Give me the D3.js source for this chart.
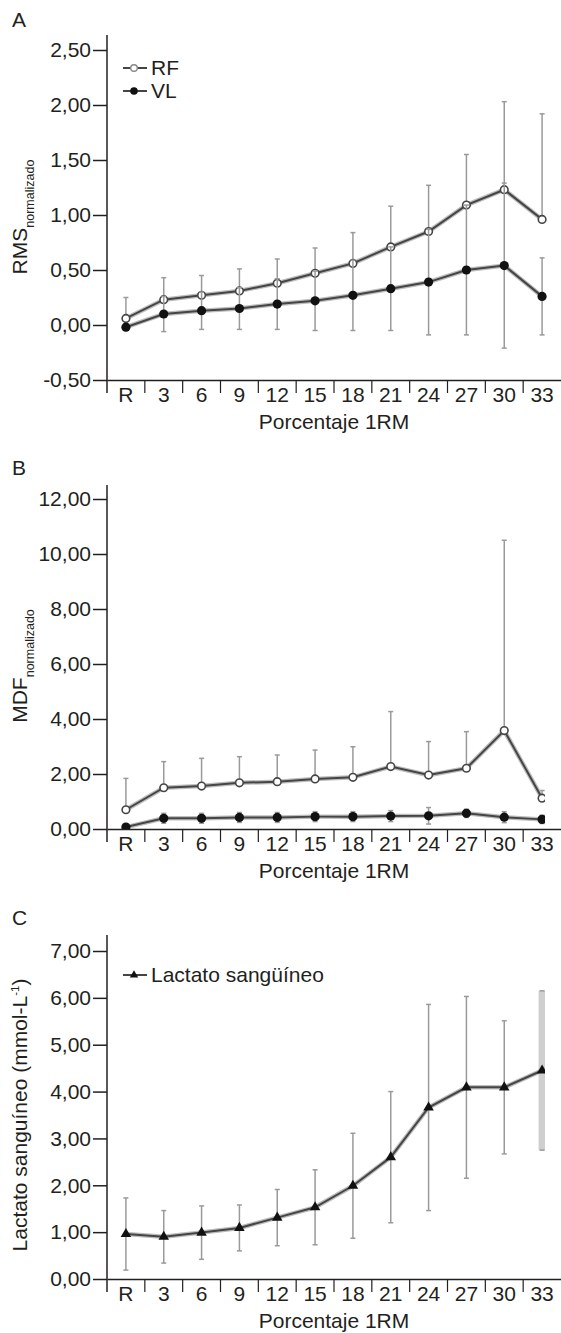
<!DOCTYPE html>
<html>
<head>
<meta charset="utf-8">
<script src="https://cdn.jsdelivr.net/npm/d3@7"></script>
<style>
  body { margin: 0; background: #fff; }
  svg { display: block; font-family: "Liberation Sans", Arial, sans-serif; }
  .axis text { font-size: 21px; fill: #231f20; }
  .axis path, .axis line { stroke: #231f20; stroke-width: 1.5; }
</style>
</head>
<body>
<script>
const categories = ["R", "3", "6", "9", "12", "15", "18", "21", "24", "27", "30", "33"];

// A: RMS normalizado
const rmsTicks = [-0.5, 0, 0.5, 1, 1.5, 2, 2.5];
const rmsRF = [0.06, 0.23, 0.27, 0.31, 0.38, 0.47, 0.56, 0.71, 0.85, 1.09, 1.23, 0.96];
const rmsRFsd = [0.19, 0.2, 0.18, 0.2, 0.22, 0.23, 0.28, 0.37, 0.42, 0.46, 0.8, 0.96];
const rmsVL = [-0.02, 0.1, 0.13, 0.15, 0.19, 0.22, 0.27, 0.33, 0.39, 0.5, 0.54, 0.26];
const rmsVLsd = [0.03, 0.16, 0.17, 0.19, 0.23, 0.27, 0.32, 0.38, 0.48, 0.59, 0.75, 0.35];

// B: MDF normalizado
const mdfTicks = [0, 2, 4, 6, 8, 10, 12];
const mdfRF = [0.7, 1.5, 1.56, 1.68, 1.72, 1.82, 1.88, 2.27, 1.96, 2.21, 3.58, 1.12];
const mdfRFsd = [1.14, 0.95, 1.01, 0.95, 0.97, 1.05, 1.11, 2.0, 1.22, 1.33, 6.92, 0.28];
const mdfVL = [0.07, 0.39, 0.39, 0.42, 0.42, 0.45, 0.45, 0.47, 0.48, 0.57, 0.43, 0.35];
const mdfVLsd = [0.1, 0.18, 0.18, 0.18, 0.18, 0.18, 0.18, 0.2, 0.3, 0.15, 0.2, 0.15];

// C: Lactato sanguineo
const lacTicks = [0, 1, 2, 3, 4, 5, 6, 7];
const lactato = [0.96, 0.9, 0.99, 1.09, 1.31, 1.53, 1.99, 2.6, 3.66, 4.09, 4.09, 4.45];
const lactatoSd = [0.77, 0.56, 0.57, 0.49, 0.6, 0.8, 1.12, 1.4, 2.2, 1.94, 1.42, 1.7];

const W = 561, H = 1333;
const left = 107, right = 561;
const ink = "#231f20", lineCol = "#454545", barCol = "#9a9a9a";

const svg = d3.select("body").append("svg").attr("width", W).attr("height", H);

let x = d3.scaleBand().domain(categories).range([left, right]).padding(0);
let fmt = (d) => d.toFixed(2).replace(".", ",");

function drawPanel(cfg) {
  let y = d3.scaleLinear().domain(cfg.domain).range([cfg.y0, cfg.y1]);
  let g = svg.append("g");

  // panel letter
  svg.append("text").attr("x", 12).attr("y", cfg.letterY).attr("dy", "0.35em")
    .style("font-size", "21px").attr("fill", ink).text(cfg.letter);

  // y axis
  g.append("g").attr("class", "axis")
    .attr("transform", "translate(" + left + ",0)")
    .call(d3.axisLeft(y).tickValues(cfg.ticks).tickFormat(fmt).tickSize(14).tickPadding(2))
    .call((a) => a.select(".domain").remove());
  g.append("line").attr("x1", left).attr("x2", left)
    .attr("y1", cfg.top).attr("y2", cfg.y0 + 13)
    .attr("stroke", ink).attr("stroke-width", 1.5);

  // x axis
  g.append("g").attr("class", "axis")
    .attr("transform", "translate(0," + cfg.y0 + ")")
    .call(d3.axisBottom(x).tickSize(0).tickPadding(7).tickSizeOuter(0));
  g.selectAll(".sep").data(categories.slice(1)).enter().append("line")
    .attr("x1", (d) => x(d)).attr("x2", (d) => x(d))
    .attr("y1", cfg.y0).attr("y2", cfg.y0 + 13)
    .attr("stroke", ink).attr("stroke-width", 1.2);

  svg.append("text").attr("x", (left + right) / 2).attr("y", cfg.y0 + 42).attr("dy", "0.35em")
    .attr("text-anchor", "middle").style("font-size", "21px").attr("fill", ink)
    .text("Porcentaje 1RM");

  // y label
  let yl = svg.append("text")
    .attr("transform", "translate(27," + cfg.labelY + ") rotate(-90)")
    .attr("text-anchor", "middle").attr("fill", ink).style("font-size", "21px");
  yl.append("tspan").text(cfg.label);
  if (cfg.sub) {
    yl.append("tspan").attr("dy", 7).style("font-size", "12.5px").text(cfg.sub);
  }
  if (cfg.label2) {
    yl.append("tspan").attr("dy", -8).style("font-size", "11.5px").text(cfg.sup);
    yl.append("tspan").attr("dy", 8).text(cfg.label2);
  }

  let plot = g.append("g");
  if (cfg.clip) {
    svg.append("clipPath").attr("id", "clip" + cfg.letter).append("rect")
      .attr("x", left).attr("y", cfg.top - 10).attr("width", cfg.clip - left).attr("height", cfg.y0 - cfg.top + 10);
    plot.attr("clip-path", "url(#clip" + cfg.letter + ")");
  }

  cfg.series.forEach((s) => {
    let data = s.values.map((v, i) => ({ c: categories[i], v: v, sd: s.sd[i] }));
    let cx = (d) => x(d.c) + x.bandwidth() / 2;

    // error bars
    let eb = plot.append("g").attr("stroke", barCol).attr("stroke-width", 1.5);
    data.forEach((d, i) => {
      let hi = s.dir === "down" ? d.v : d.v + d.sd;
      let lo = s.dir === "up" ? d.v : d.v - d.sd;
      let wide = s.wideLast && i === data.length - 1;
      if (wide) {
        eb.append("rect").attr("x", cx(d) - 3.5).attr("width", 7)
          .attr("y", y(hi)).attr("height", y(lo) - y(hi))
          .attr("fill", "#cfcfcf").attr("stroke", "none");
      } else {
        eb.append("line").attr("x1", cx(d)).attr("x2", cx(d)).attr("y1", y(hi)).attr("y2", y(lo));
      }
      if (s.dir !== "down") {
        eb.append("line").attr("x1", cx(d) - 2.5).attr("x2", cx(d) + 2.5).attr("y1", y(hi)).attr("y2", y(hi));
      }
      if (s.dir !== "up") {
        eb.append("line").attr("x1", cx(d) - 2.5).attr("x2", cx(d) + 2.5).attr("y1", y(lo)).attr("y2", y(lo));
      }
    });

    // line
    plot.append("path").datum(data)
      .attr("fill", "none").attr("stroke", "#bdbdbd").attr("stroke-width", 4.5)
      .attr("d", d3.line().x(cx).y((d) => y(d.v)));
    plot.append("path").datum(data)
      .attr("fill", "none").attr("stroke", lineCol).attr("stroke-width", 2)
      .attr("d", d3.line().x(cx).y((d) => y(d.v)));

    // markers
    if (s.marker === "open") {
      plot.selectAll(null).data(data).enter().append("circle")
        .attr("cx", cx).attr("cy", (d) => y(d.v)).attr("r", 3.8)
        .attr("fill", "#fff").attr("stroke", lineCol).attr("stroke-width", 1.6);
    } else if (s.marker === "dot") {
      plot.selectAll(null).data(data).enter().append("circle")
        .attr("cx", cx).attr("cy", (d) => y(d.v)).attr("r", 4.6).attr("fill", "#111");
    } else {
      plot.selectAll(null).data(data).enter().append("path")
        .attr("transform", (d) => "translate(" + cx(d) + "," + y(d.v) + ")")
        .attr("d", d3.symbol(d3.symbolTriangle, 48)).attr("fill", "#111");
    }
  });

  // legend
  cfg.legend.forEach((l, i) => {
    let ly = cfg.legendY + i * 23;
    svg.append("line").attr("x1", 123).attr("x2", 147).attr("y1", ly).attr("y2", ly)
      .attr("stroke", lineCol).attr("stroke-width", 2);
    if (l.marker === "open") {
      svg.append("circle").attr("cx", 134).attr("cy", ly).attr("r", 3.3)
        .attr("fill", "#fff").attr("stroke", "#888").attr("stroke-width", 1.4);
    } else if (l.marker === "dot") {
      svg.append("circle").attr("cx", 134).attr("cy", ly).attr("r", 3.8).attr("fill", "#111");
    } else {
      svg.append("path").attr("transform", "translate(134," + ly + ")")
        .attr("d", d3.symbol(d3.symbolTriangle, 30)).attr("fill", "#111");
    }
    svg.append("text").attr("x", 151).attr("y", ly).attr("dy", "0.35em")
      .style("font-size", "21px").attr("fill", ink).text(l.name);
  });
}

drawPanel({
  letter: "A", letterY: 20, top: 35, y0: 380, y1: 50, domain: [-0.5, 2.5], ticks: rmsTicks,
  label: "RMS", sub: "normalizado", labelY: 217,
  series: [
    { values: rmsRF, sd: rmsRFsd, dir: "up", marker: "open" },
    { values: rmsVL, sd: rmsVLsd, dir: "both", marker: "dot" },
  ],
  legend: [{ name: "RF", marker: "open" }, { name: "VL", marker: "dot" }], legendY: 68,
});

drawPanel({
  letter: "B", letterY: 468, top: 485, y0: 829, y1: 499, domain: [0, 12], ticks: mdfTicks,
  label: "MDF", sub: "normalizado", labelY: 666, clip: 545,
  series: [
    { values: mdfRF, sd: mdfRFsd, dir: "up", marker: "open" },
    { values: mdfVL, sd: mdfVLsd, dir: "both", marker: "dot" },
  ],
  legend: [], legendY: 0,
});

drawPanel({
  letter: "C", letterY: 918, top: 935, y0: 1279, y1: 951, domain: [0, 7], ticks: lacTicks,
  label: "Lactato sanguíneo (mmol-L", sup: "-1", label2: ")", labelY: 1115, clip: 545,
  series: [{ values: lactato, sd: lactatoSd, dir: "both", marker: "tri", wideLast: true }],
  legend: [{ name: "Lactato sangüíneo", marker: "tri" }], legendY: 975,
});
</script>
</body>
</html>
